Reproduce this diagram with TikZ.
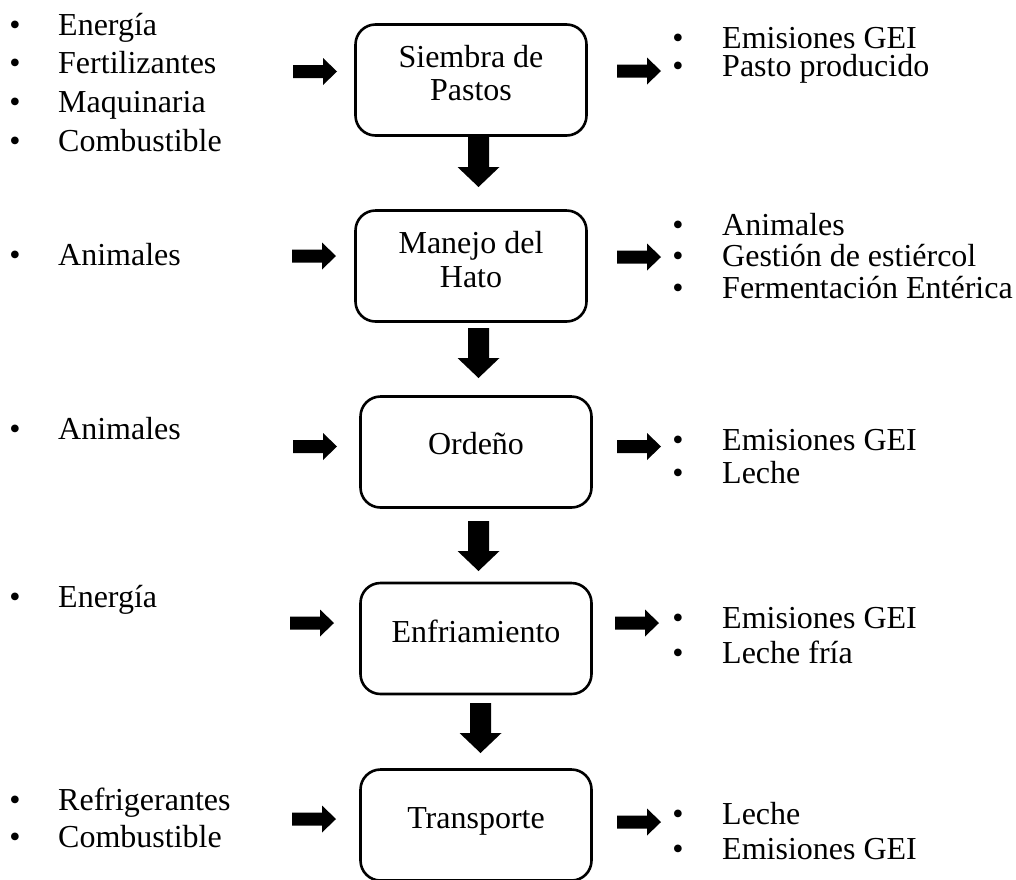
\documentclass[tikz,border=0pt]{standalone}
\usepackage{fontspec}
\setmainfont{Liberation Serif}
\newcommand\myRA[2]{\fill ({#1},{#2-6.5}) -- ({#1+30},{#2-6.5}) -- ({#1+30},{#2-13.5}) -- ({#1+44},{#2}) -- ({#1+30},{#2+13.5}) -- ({#1+30},{#2+6.5}) -- ({#1},{#2+6.5}) -- cycle;}
\newcommand\myDA[2]{\fill ({#1-10.5},{#2}) -- ({#1+10.5},{#2}) -- ({#1+10.5},{#2+30}) -- ({#1+21},{#2+30}) -- ({#1},{#2+50}) -- ({#1-21},{#2+30}) -- ({#1-10.5},{#2+30}) -- cycle;}
\begin{document}
\begin{tikzpicture}[x=1pt,y=-1pt,
  font=\fontsize{32}{38}\selectfont,
  box/.style={draw=black,line width=2.6pt,rounded corners=20pt,minimum width=231pt,minimum height=111pt,inner sep=0pt},
  txt/.style={anchor=base,inner sep=0pt},
  item/.style={anchor=base west,inner sep=0pt},
  bul/.style={anchor=base,inner sep=0pt}]
\useasboundingbox (0,0) rectangle (1016,879);
\fill[white] (0,0) rectangle (1016,879);
% boxes
\node[box] (b1) at (471,80) {};
\node[box] (b2) at (471,266) {};
\node[box] (b3) at (476,452) {};
\node[box] (b4) at (476,638.5) {};
\node[box] (b5) at (476,825) {};
% box texts
\node[txt] (t1a) at (471,67) {Siembra de};
\node[txt] (t1b) at (471,100) {Pastos};
\node[txt] (t2a) at (471,253) {Manejo del};
\node[txt] (t2b) at (471,287) {Hato};
\node[txt] (t3) at (476,454) {Ordeño};
\node[txt] (t4) at (476,642) {Enfriamiento};
\node[txt] (t5) at (476,828) {Transporte};
% down arrows
\myDA{478.5}{137}
\myDA{478.5}{328}
\myDA{478.5}{521}
\myDA{480.5}{703}
% left arrows
\myRA{293}{71.5}
\myRA{292}{256}
\myRA{293}{446.5}
\myRA{290}{623}
\myRA{292}{819}
% right arrows
\myRA{617}{71}
\myRA{617}{257}
\myRA{617}{446.5}
\myRA{615}{623}
\myRA{617}{822}
% left lists
\foreach \y/\t [count=\i] in {35/Energía,73/Fertilizantes,112/Maquinaria,151/Combustible,265/Animales,439/Animales,607/Energía,810/Refrigerantes,847/Combustible}{
  \node[bul] (lb\i) at (15,\y) {•};
  \node[item] (li\i) at (58,\y) {\t};
}
% right lists
\foreach \y/\t [count=\i] in {48/Emisiones GEI,76/Pasto producido,235/Animales,266/Gestión de estiércol,298/Fermentación Entérica,450/Emisiones GEI,483/Leche,628/Emisiones GEI,663/Leche fría,824/Leche,859/Emisiones GEI}{
  \node[bul] (rb\i) at (678,\y) {•};
  \node[item] (ri\i) at (722,\y) {\t};
}
\end{tikzpicture}
\end{document}
